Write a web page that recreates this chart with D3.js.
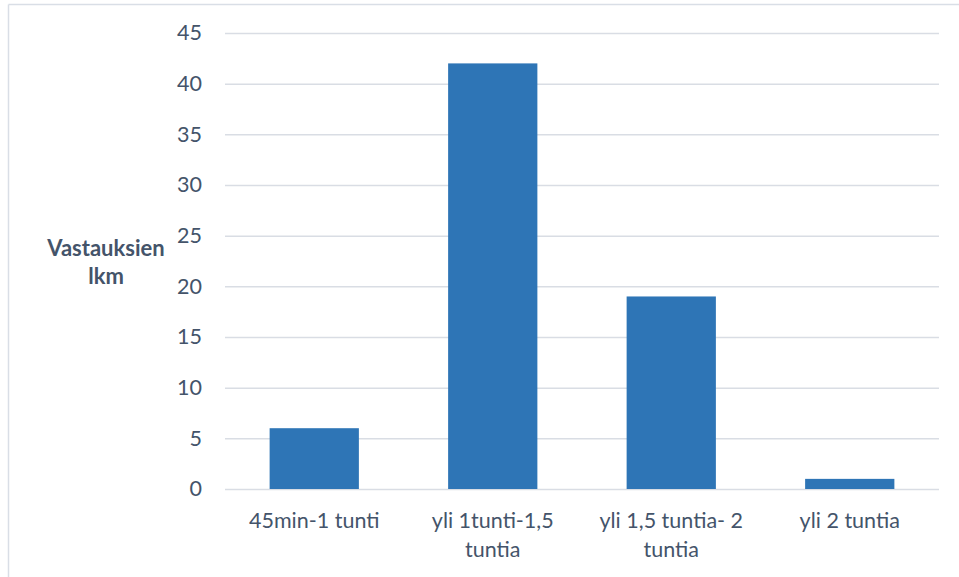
<!DOCTYPE html>
<html>
<head>
<meta charset="utf-8">
<script src="https://cdn.jsdelivr.net/npm/d3@7"></script>
<style>
  html, body { margin: 0; padding: 0; background: #fff; }
  svg { display: block; font-family: Lato, "Open Sans", sans-serif; }
</style>
</head>
<body>
<svg id="chart" width="959" height="577"></svg>
<script>
// Response counts by time category
const categories = [
  ["45min-1 tunti"],
  ["yli 1tunti-1,5", "tuntia"],
  ["yli 1,5 tuntia- 2", "tuntia"],
  ["yli 2 tuntia"]
];
const values = [6, 42, 19, 1];
const yTicks = [0, 5, 10, 15, 20, 25, 30, 35, 40, 45];
const yTitle = ["Vastauksien", "lkm"];

const svg = d3.select("#chart");
const W = 959, H = 577;
const textColor = "#44546a";

// Outer chart frame (top and left edges visible)
svg.append("line").attr("x1", 8.5).attr("x2", W).attr("y1", 4.5).attr("y2", 4.5)
  .attr("stroke", "#d9dee6").attr("stroke-width", 1.5);
svg.append("line").attr("x1", 8.5).attr("x2", 8.5).attr("y1", 4.5).attr("y2", H)
  .attr("stroke", "#d9dee6").attr("stroke-width", 1.5);

const x = d3.scaleBand()
  .domain(d3.range(categories.length))
  .range([225, 939])
  .paddingInner(0.5)
  .paddingOuter(0.25);

const y = d3.scaleLinear().domain([0, 45]).range([489, 33]);

// Gridlines
const yAxis = d3.axisLeft(y).tickValues(yTicks).tickSize(-(939 - 225)).tickPadding(23);
const gy = svg.append("g").attr("transform", "translate(225,0)").call(yAxis);
gy.select(".domain").remove();
gy.selectAll(".tick line").attr("stroke", "#d9dde4").attr("stroke-width", 1.5);
gy.selectAll(".tick text")
  .attr("fill", textColor)
  .attr("font-size", 21.5)
  .attr("font-family", "Lato, 'Open Sans', sans-serif");

// Bars
svg.append("g").selectAll("rect")
  .data(values)
  .join("rect")
  .attr("x", (d, i) => x(i))
  .attr("width", x.bandwidth())
  .attr("y", d => y(d))
  .attr("height", d => y(0) - y(d))
  .attr("fill", "#2e75b6");

// Category labels
const cat = svg.append("g").selectAll("text")
  .data(categories)
  .join("text")
  .attr("x", (d, i) => x(i) + x.bandwidth() / 2)
  .attr("y", 528)
  .attr("text-anchor", "middle")
  .attr("fill", textColor)
  .attr("font-size", 21.5);
cat.selectAll("tspan")
  .data(d => d)
  .join("tspan")
  .attr("x", function () { return this.parentNode.getAttribute("x"); })
  .attr("dy", (d, i) => i === 0 ? 0 : 29)
  .text(d => d);

// Y axis title
const yt = svg.append("text")
  .attr("x", 106)
  .attr("y", 256)
  .attr("text-anchor", "middle")
  .attr("fill", textColor)
  .attr("font-size", 22)
  .attr("font-weight", "bold");
yt.selectAll("tspan")
  .data(yTitle)
  .join("tspan")
  .attr("x", 106)
  .attr("dy", (d, i) => i === 0 ? 0 : 28)
  .text(d => d);
</script>
</body>
</html>
